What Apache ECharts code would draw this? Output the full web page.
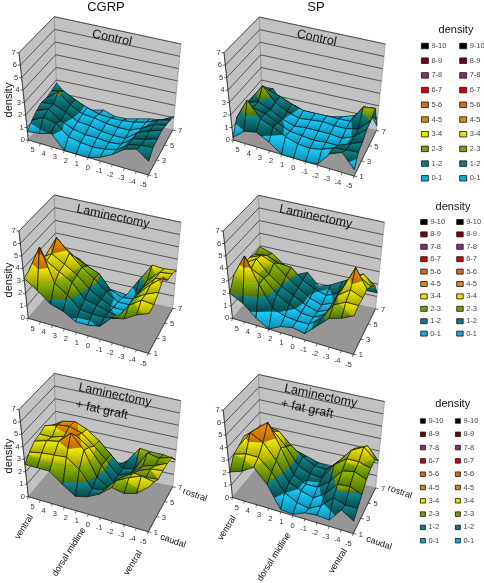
<!DOCTYPE html>
<html><head><meta charset="utf-8">
<style>html,body{margin:0;padding:0;background:#fff}#c{width:484px;height:583px}</style>
<script src="https://cdn.jsdelivr.net/npm/echarts@6/dist/echarts.min.js"></script>
</head><body><div id="c"></div>
<script>
// density[j][i]: rows y = 1..7 (front to back), columns x = 5..-5
const xTicks=[5,4,3,2,1,0,-1,-2,-3,-4,-5];
const yValues=[1,2,3,4,5,6,7];
const yTicks=[1,3,5,7];
const zTicks=[0,1,2,3,4,5,6,7];
const bands=['9-10','8-9','7-8','6-7','5-6','4-5','3-4','2-3','1-2','0-1'];
const cgrpControl=[
[0.7,0.8,1.1,0,0,0,0.3,0.8,1.5,1.8,1.1],
[1.1,1.6,1.4,0.6,0.4,0.3,0.4,0.6,1.3,1.5,1.6],
[1.4,1.8,1.1,0.7,0.5,0.5,0.4,0.5,1.2,1.4,1.7],
[1.6,1.7,1.3,0.8,0.7,0.5,0.4,0.4,1.1,1.5,1.8],
[1.5,2.2,1.4,0.9,0.8,0.6,0.5,0.5,0.9,1.4,1.6],
[1.6,1.8,1.3,0.9,0.6,0.5,0.5,0.6,0.8,1.2,1.4],
[1.75,0.8,0.3,0.2,0.4,0.1,0.1,0.3,0.5,0.6,1.1]];
const spControl=[
[0.2,1.0,1.2,0.7,0,0,0,0.1,1.2,1.6,0.5],
[1.3,3.0,1.8,1.4,0.9,0.6,0.5,0.7,1.1,1.2,1.3],
[1.5,1.9,1.7,1.2,0.8,0.7,0.6,0.7,0.7,1.1,1.5],
[1.6,1.9,1.5,1.0,0.7,0.8,0.8,0.8,0.7,1.1,1.9],
[1.5,2.7,1.6,1.1,0.8,0.9,1.0,0.9,0.9,1.1,2.0],
[1.4,1.9,1.6,1.2,0.9,0.9,0.9,0.9,0.9,2.3,2.4],
[1.5,1.5,0.2,0.5,0.1,0.1,0.3,0.5,0.8,1.6,0.4]];
const cgrpLam=[
[3.2,2.5,1.7,1.4,0.85,0.85,1.05,2.0,2.2,2.8,3.2],
[3.4,5.5,2.9,2.2,1.3,1.2,1.2,1.4,2.7,3.4,3.3],
[3.5,3.9,3.3,2.7,1.6,1.4,1.1,0.9,2.7,3.3,3.7],
[3.4,4.0,3.4,2.8,1.9,1.3,0.9,0.9,2.5,3.5,4.3],
[3.1,4.8,3.8,2.9,2.2,1.4,0.8,0.8,2.4,3.4,3.5],
[3.0,3.7,3.0,2.5,2.1,1.0,0.6,0.7,2.4,3.3,3.4],
[2.4,2.6,2.3,1.7,0.5,0.4,0.3,1.7,3.1,3.0,3.1]];
const spLam=[
[2.0,1.5,0.6,0,0.5,0.7,0.5,1.4,2.3,2.6,3.1],
[3.0,4.8,2.8,1.2,0.8,0.7,0.7,1.4,2.8,3.3,3.3],
[3.0,3.3,2.8,1.8,1.2,0.8,0.7,1.2,3.0,3.7,3.3],
[3.0,3.6,2.6,1.9,1.4,0.9,0.6,1.0,2.9,4.9,3.4],
[3.0,3.4,3.0,2.2,1.5,0.9,0.6,1.0,3.0,3.6,3.0],
[2.8,2.9,2.5,2.4,1.6,1.1,0.8,1.2,2.6,3.2,2.5],
[2.9,2.6,1.9,1.3,1.7,0.8,1.1,1.6,2.1,1.3,1.3]];
const cgrpFat=[
[2.6,2.6,2.6,1.8,1.15,1.4,1.9,2.7,2.5,2.8,3.6],
[3.1,3.3,3.4,3.5,2.8,1.5,1.7,2.7,3.2,3.6,3.4],
[3.5,3.8,4.0,4.9,3.8,1.9,1.3,2.4,3.0,2.9,3.0],
[3.6,3.6,3.9,4.2,3.5,2.3,1.2,1.9,2.6,3.0,3.1],
[3.8,4.1,4.2,3.9,3.1,2.2,1.2,1.6,2.4,2.7,3.1],
[3.3,3.9,4.1,3.7,3.0,2.1,1.2,1.4,2.9,2.7,3.0],
[2.8,3.0,2.9,1.7,0.3,0.6,1.3,2.5,2.4,2.4,2.2]];
const spFat=[
[2.05,2.4,3.0,1.9,0.2,0.1,0.5,0.6,0.5,1.6,1.0],
[3.0,3.3,3.3,2.4,1.0,0.5,0.3,0.8,1.7,1.4,1.4],
[3.2,4.5,4.0,2.8,1.3,0.9,0.6,1.2,2.2,2.3,1.9],
[3.5,4.3,5.1,3.3,1.4,0.9,0.9,1.6,2.7,2.9,2.5],
[3.0,3.9,3.9,2.9,1.6,1.2,1.1,2.4,3.1,3.1,2.8],
[2.9,3.6,3.4,2.5,1.8,1.3,1.2,2.1,3.2,3.7,2.9],
[2.6,2.8,2.3,1.6,1.3,1.0,0.9,1.5,2.8,3.2,2.2]];

const bandColors=[['#19d2ff','#0a8fb4'],['#118c92','#00484a'],['#97bf00','#4d7000'],['#f7f200','#a3a200'],
 ['#f29a00','#b86a00'],['#e07012','#a34a00'],['#d80000','#900000'],['#8a3070','#5a1a48'],['#780000','#480000'],['#000','#000']];
const legendColors={'9-10':'#000','8-9':'#7a0010','7-8':'#8a3070','6-7':'#d00010','5-6':'#d86a18','4-5':'#d88a18','3-4':'#e6e600','2-3':'#7f9a10','1-2':'#127a80','0-1':'#18a8d8'};

const corners={
 cgrp:{L:[0,0],F:[120,35],R:[144.4,-10],B:[29,-34.7],LT:[-9.3,-87.3],FT:[122,-52.3],RT:[152.7,-96],BT:[26,-123.3]},
 sp:{L:[0,0],F:[120.8,36],R:[143,-9.5],B:[29,-34.7],LT:[-9.3,-87.3],FT:[122.8,-51.3],RT:[152,-96],BT:[26,-123]}
};
const panels=[
 {data:cgrpControl,o:[28.3,140],c:corners.cgrp},
 {data:spControl,o:[233.3,140],c:corners.sp},
 {data:cgrpLam,o:[28.3,318.3],c:corners.cgrp},
 {data:spLam,o:[232.5,318.3],c:corners.sp},
 {data:cgrpFat,o:[28.3,496.7],c:corners.cgrp},
 {data:spFat,o:[232.5,497.5],c:corners.sp}
];
function proj(p,u,v,w){ // u along x categories, v along y categories, w density/7
 const c=p.c,f=(k)=>{
  const b=(1-u)*(1-v)*c.L[k]+u*(1-v)*c.F[k]+u*v*c.R[k]+(1-u)*v*c.B[k];
  const t=(1-u)*(1-v)*c.LT[k]+u*(1-v)*c.FT[k]+u*v*c.RT[k]+(1-u)*v*c.BT[k];
  return b+(t-b)*w+p.o[k];
 };
 return [f(0),f(1)];
}
function clip(poly,lo,hi){
 const cut=(pts,keep,lvl)=>{const r=[];for(let n=0;n<pts.length;n++){const a=pts[n],b=pts[(n+1)%pts.length];
   const ka=keep(a[2]),kb=keep(b[2]);
   if(ka)r.push(a);
   if(ka!==kb){const t=(lvl-a[2])/(b[2]-a[2]);r.push([a[0]+t*(b[0]-a[0]),a[1]+t*(b[1]-a[1]),lvl]);}
  }return r;};
 let r=cut(poly,z=>z>=lo,lo); if(r.length)r=cut(r,z=>z<=hi,hi); return r;
}
const nX=xTicks.length,nY=yValues.length,zMax=zTicks[zTicks.length-1];
function surfaceSeries(p){
 const cells=[];
 for(let j=nY-2;j>=0;j--)for(let i=0;i<nX-1;i++)cells.push([i,j]);
 return {type:'custom',coordinateSystem:'cartesian2d',silent:true,animation:false,z:3,encode:{x:0,y:1},data:cells,
  renderItem(params,api){
   const i=api.value(0),j=api.value(1),d=p.data;
   const q=[[i,j,d[j][i]],[i+1,j,d[j][i+1]],[i+1,j+1,d[j+1][i+1]],[i,j+1,d[j+1][i]]];
   const scr=(a)=>api.coord(proj(p,a[0]/(nX-1),a[1]/(nY-1),a[2]/zMax));
   const children=[];
   for(let k=0;k<bandColors.length;k++){
    const part=clip(q,k,k+1);
    if(part.length<3)continue;
    children.push({type:'polygon',shape:{points:part.map(scr)},style:{
      fill:{type:'linear',x:0,y:0,x2:0,y2:1,colorStops:[{offset:0,color:bandColors[k][0]},{offset:1,color:bandColors[k][1]}]},
      stroke:bandColors[k][1],lineWidth:0.2}});
   }
   children.push({type:'polygon',shape:{points:q.map(scr)},style:{fill:'none',stroke:'#111',lineWidth:0.7}});
   return {type:'group',children};
  }};
}
function frameSeries(p){
 return {type:'custom',coordinateSystem:'cartesian2d',silent:true,animation:false,z:2,encode:{x:0,y:1},data:[[0,0]],
  renderItem(params,api){
   const P=(u,v,w)=>api.coord(proj(p,u,v,w));
   const poly=(pts,fill)=>({type:'polygon',shape:{points:pts},style:{fill,stroke:'#8a8a8a',lineWidth:0.6}});
   const line=(a,b,col,w)=>({type:'line',shape:{x1:a[0],y1:a[1],x2:b[0],y2:b[1]},style:{stroke:col||'#222',lineWidth:w||0.7}});
   const txt=(t,x,y,al)=>({type:'text',x,y,style:{text:String(t),fontFamily:'Liberation Sans',fontSize:7.5,fill:'#333',textAlign:al||'center',textVerticalAlign:'middle'}});
   const ch=[
    poly([P(0,0,0),P(0,1,0),P(0,1,1),P(0,0,1)],'#c2c2c2'),
    poly([P(0,1,0),P(1,1,0),P(1,1,1),P(0,1,1)],'#c2c2c2'),
    poly([P(0,0,0),P(1,0,0),P(1,1,0),P(0,1,0)],'#969696')];
   zTicks.forEach(z=>{const w=z/zMax;
    if(z>0){ch.push(line(P(0,0,w),P(0,1,w)));ch.push(line(P(0,1,w),P(1,1,w)));}
    const a=P(0,0,w);ch.push(line(a,[a[0]-2.5,a[1]],'#222',0.7));
    ch.push(txt(z,a[0]-5.5,a[1]));});
   ch.push(line(P(0,0,0),P(0,0,1),'#222',0.8));
   ch.push(line(P(0,0,0),P(1,0,0),'#222',0.8));
   ch.push(line(P(1,0,0),P(1,1,0),'#222',0.8));
   xTicks.forEach((x,i)=>{const u=i/(nX-1),a=P(u,0,0);
    ch.push(line(a,[a[0]-0.8,a[1]+2.5],'#222',0.7));
    ch.push(txt(x,a[0]+4.3-0.93*i,a[1]+10.3));});
   yTicks.forEach(y=>{const v=(y-yValues[0])/(yValues[yValues.length-1]-yValues[0]),a=P(1,v,0);
    ch.push(line(a,[a[0]+3,a[1]+0.6],'#222',0.7));
    ch.push(txt(y,a[0]+7.5,a[1]+1));});
   return {type:'group',children:ch};
  }};
}
const legendSeries=bands.map(name=>({type:'custom',name,coordinateSystem:'cartesian2d',data:[],itemStyle:{color:legendColors[name]},renderItem(){return null;}}));
function legend(left,top,iw,ih,gap){return {orient:'vertical',left,top,itemWidth:iw,itemHeight:ih,itemGap:gap,selectedMode:false,padding:0,
  textStyle:{fontFamily:'Liberation Sans',fontSize:7.5,color:'#444',padding:[0,0,0,-2]},
  data:bands.map(name=>({name,icon:'rect',itemStyle:{color:legendColors[name],borderColor:'#111',borderWidth:0.8}}))};}
const legends=[
 legend(421,42,7,5.5,6.7),legend(459.3,42,7,5.5,6.7),
 legend(420.3,218,6.5,5,4.4),legend(456.3,218,6.5,5,4.4),
 legend(420,417,5,4.5,5.3),legend(455,417,5,4.5,5.3)];
const T=(text,x,y,size,rot,extra)=>Object.assign({type:'text',z:20,x,y,rotation:(rot||0)*Math.PI/180,style:{text,fontFamily:'Liberation Sans',fontSize:size,fill:'#111',textAlign:'center',textVerticalAlign:'middle'}},extra||{});
const texts=[
 T('CGRP',106,7,13),T('SP',316,7,13),
 T('Control',112,38,12.5,-12),T('Control',316.7,38,12.5,-12),
 T('Laminectomy',113,216.7,12.5,-12),T('Laminectomy',315.7,216.7,12.5,-12),
 T('Laminectomy',115,395,12.5,-12),T('+ fat graft',101.7,410,12.5,-12),
 T('Laminectomy',320.7,396,12.5,-12),T('+ fat graft',307,409,12.5,-12),
 T('density',9,100,11,90),T('density',9,280,11,90),T('density',9,456,11,90),
 T('density',456,29.5,11),T('density',453,207,11),T('density',452.7,404,11),
 T('ventral',24,527,9,58),T('dorsal midline',69,552,9,58),T('ventral',133,563,9,58),
 T('rostral',195,495,9,-19),T('caudal',173,541,9,-19),
 T('ventral',227,528,9,58),T('dorsal midline',274,557,9,58),T('ventral',338,561,9,58),
 T('rostral',400,492,9,-19),T('caudal',379,543,9,-19)
];
const series=[];
panels.forEach(p=>{series.push(frameSeries(p));});
panels.forEach(p=>{series.push(surfaceSeries(p));});
series.push(...legendSeries);
const chart=echarts.init(document.getElementById('c'),null,{renderer:'canvas'});
chart.setOption({animation:false,backgroundColor:'#fff',
 grid:{left:0,right:0,top:0,bottom:0},
 xAxis:{type:'value',min:0,max:484,show:false},
 yAxis:{type:'value',min:0,max:583,inverse:true,show:false},
 legend:legends,series,graphic:{elements:texts}});
</script></body></html>
